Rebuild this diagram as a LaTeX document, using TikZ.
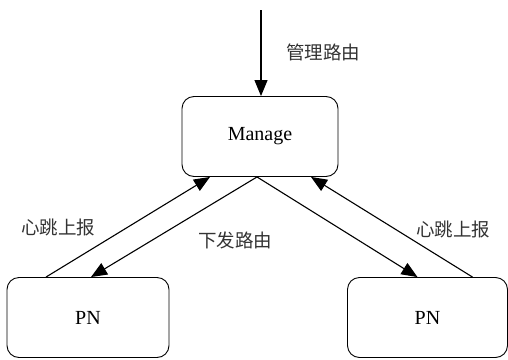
\documentclass[tikz,border=0pt]{standalone}
\usepackage{fontspec}
\setmainfont{Liberation Serif}
\newfontfamily\cjk{Noto Sans CJK SC}
\usetikzlibrary{arrows.meta}
\begin{document}
\begin{tikzpicture}[x=1pt,y=-1pt,
  box/.style={draw,line width=0.9pt,rounded corners=12pt,minimum width=156pt,minimum height=80pt,inner sep=0pt,font=\fontsize{20}{24}\selectfont},
  arr/.style={line width=1.1pt,-{Triangle[length=16pt,width=13pt]}},
  lbl/.style={font=\cjk\fontsize{18.5}{22}\selectfont,text=black!80,inner sep=0pt}]
\useasboundingbox (0,0) rectangle (508,359);
\node[box] (manage) at (260,136.5) {Manage};
\node[box,minimum width=162pt] (pnl) at (88,317.5) {PN};
\node[box,minimum width=160pt] (pnr) at (427.5,317.5) {PN};
\coordinate (top) at (261,10);
\draw[arr] (top) -- (top |- manage.north);
\node[lbl] (l1) at (323,52) {管理路由};
\draw[arr] ([xshift=-42pt]pnl.north) -- ([xshift=-50pt]manage.south);
\draw[arr] ([xshift=-3pt]manage.south) -- ([xshift=3pt]pnl.north);
\draw[arr] ([xshift=-3pt]manage.south) -- ([xshift=-10pt]pnr.north);
\draw[arr] ([xshift=45pt]pnr.north) -- ([xshift=51pt]manage.south);
\node[lbl] (l2) at (58,227) {心跳上报};
\node[lbl] (l3) at (235,240) {下发路由};
\node[lbl] (l4) at (453,229) {心跳上报};
\end{tikzpicture}
\end{document}
